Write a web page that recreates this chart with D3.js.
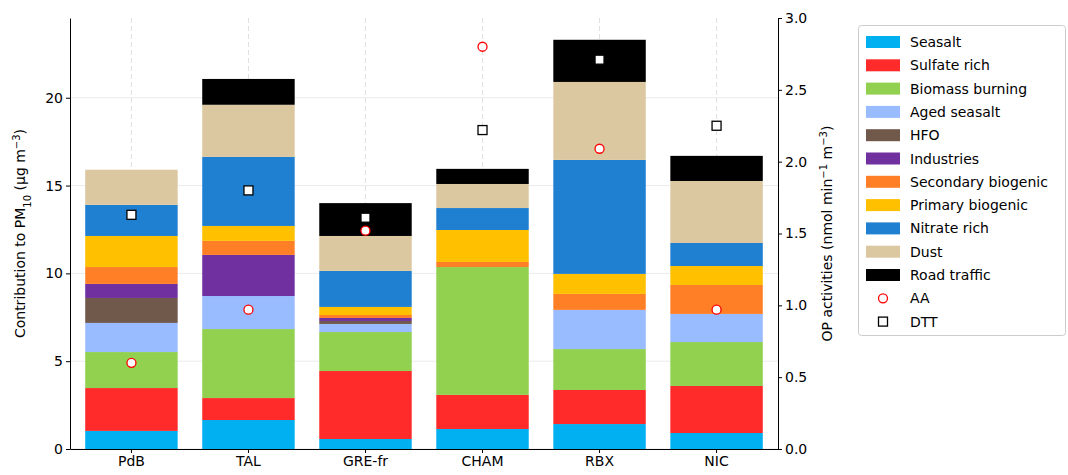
<!DOCTYPE html><html><head><meta charset="utf-8"><script src="https://cdn.jsdelivr.net/npm/d3@7"></script>
<style>body{margin:0;background:#fff}text{font-family:"DejaVu Sans",sans-serif}</style></head><body><svg id="c" width="1068" height="475"></svg>
<script>
const sites=["PdB","TAL","GRE-fr","CHAM","RBX","NIC"];
const sources=["Seasalt","Sulfate rich","Biomass burning","Aged seasalt","HFO","Industries","Secondary biogenic","Primary biogenic","Nitrate rich","Dust","Road traffic"];
const colors=["#00b0f0","#ff2a2a","#92d050","#99bbff","#70584a","#7030a0","#ff7f27","#ffc000","#1f7fd0","#dcc8a0","#000000"];
const contrib=[
[1.03,2.44,2.05,1.66,1.42,0.8,0.96,1.77,1.77,2.0,0],
[1.65,1.25,3.93,1.88,0,2.34,0.8,0.85,3.93,2.97,1.47],
[0.57,3.87,2.22,0.46,0.17,0.17,0.17,0.46,2.05,1.99,1.87],
[1.14,1.94,7.28,0,0,0,0.29,1.82,1.25,1.37,0.86],
[1.42,1.94,2.33,2.23,0,0,0.91,1.14,6.49,4.44,2.4],
[0.91,2.68,2.5,1.6,0,0,1.65,1.08,1.31,3.53,1.43]];
const AA=[0.6,0.97,1.52,2.8,2.09,0.97];
const DTT=[1.63,1.80,1.61,2.22,2.71,2.25];
const leftTicks=[0,5,10,15,20];
const rightTicks=[0,0.5,1,1.5,2,2.5,3];
const svg=d3.select("#c");
const L=70,R=778,T=18,B=449;
const x=d3.scaleBand().domain(sites).range([L,R]).paddingInner(0.21).paddingOuter(0.13);
const y=d3.scaleLinear().domain([0,24.54]).range([B,T]);
const y2=d3.scaleLinear().domain([0,3]).range([B,T]);
const g=svg.append("g");
leftTicks.forEach(t=>g.append("line").attr("x1",L).attr("x2",R).attr("y1",y(t)).attr("y2",y(t)).attr("stroke","#ebebeb"));
sites.forEach(s=>g.append("line").attr("x1",x(s)+x.bandwidth()/2).attr("x2",x(s)+x.bandwidth()/2).attr("y1",T).attr("y2",B).attr("stroke","#e0e0e0").attr("stroke-dasharray","5,3"));
const stackData=sites.map((s,i)=>{const o={site:s};sources.forEach((k,j)=>o[k]=contrib[i][j]);return o;});
const series=d3.stack().keys(sources)(stackData);
series.forEach((se,j)=>{g.selectAll(null).data(se).enter().append("rect").attr("x",d=>x(d.data.site)).attr("width",x.bandwidth()).attr("y",d=>y(d[1])).attr("height",d=>y(d[0])-y(d[1])).attr("fill",colors[j]);});
sites.forEach((s,i)=>{const cx=x(s)+x.bandwidth()/2;
g.append("circle").attr("cx",cx).attr("cy",y2(AA[i])).attr("r",4.5).attr("fill","#fff").attr("stroke","red").attr("stroke-width",1.3);
g.append("rect").attr("x",cx-4.5).attr("y",y2(DTT[i])-4.5).attr("width",9).attr("height",9).attr("fill","#fff").attr("stroke","#000").attr("stroke-width",1.3);});
const ax=svg.append("g").attr("transform",`translate(0,${B})`).call(d3.axisBottom(x).tickSize(4).tickSizeOuter(0));
const ay=svg.append("g").attr("transform",`translate(${L},0)`).call(d3.axisLeft(y).tickValues(leftTicks).tickSize(4).tickSizeOuter(0));
const ay2=svg.append("g").attr("transform",`translate(${R},0)`).call(d3.axisRight(y2).tickValues(rightTicks).tickFormat(d3.format(".1f")).tickSize(4).tickSizeOuter(0));
[ax,ay,ay2].forEach(a=>{a.selectAll("text").attr("font-size",14).attr("fill","#000");a.selectAll("path,line").attr("stroke","#000");});
svg.append("text").attr("transform",`translate(25,${(T+B)/2}) rotate(-90)`).attr("text-anchor","middle").attr("font-size",14).html('Contribution to PM<tspan baseline-shift="sub" font-size="10">10</tspan> (µg m<tspan baseline-shift="super" font-size="10">−3</tspan>)');
svg.append("text").attr("transform",`translate(832,${(T+B)/2}) rotate(-90)`).attr("text-anchor","middle").attr("font-size",14).html('OP activities (nmol min<tspan baseline-shift="super" font-size="10">−1</tspan> m<tspan baseline-shift="super" font-size="10">−3</tspan>)');
const lg=svg.append("g");
lg.append("rect").attr("x",858.5).attr("y",25.5).attr("width",207).attr("height",310).attr("rx",3).attr("fill","#fff").attr("stroke","#ccc");
const items=sources.map((s,i)=>({name:s,type:"sw",c:colors[i]})).concat([{name:"AA",type:"c"},{name:"DTT",type:"s"}]);
items.forEach((it,i)=>{const yy=41+i*23.3;
if(it.type=="sw")lg.append("rect").attr("x",866).attr("y",yy-5).attr("width",34).attr("height",12).attr("fill",it.c);
else if(it.type=="c")lg.append("circle").attr("cx",883).attr("cy",yy+1).attr("r",4.5).attr("fill","#fff").attr("stroke","red").attr("stroke-width",1.3);
else lg.append("rect").attr("x",878.5).attr("y",yy-3.5).attr("width",9).attr("height",9).attr("fill","#fff").attr("stroke","#000").attr("stroke-width",1.3);
lg.append("text").attr("x",910).attr("y",yy+6).attr("font-size",14).text(it.name);});
</script></body></html>
